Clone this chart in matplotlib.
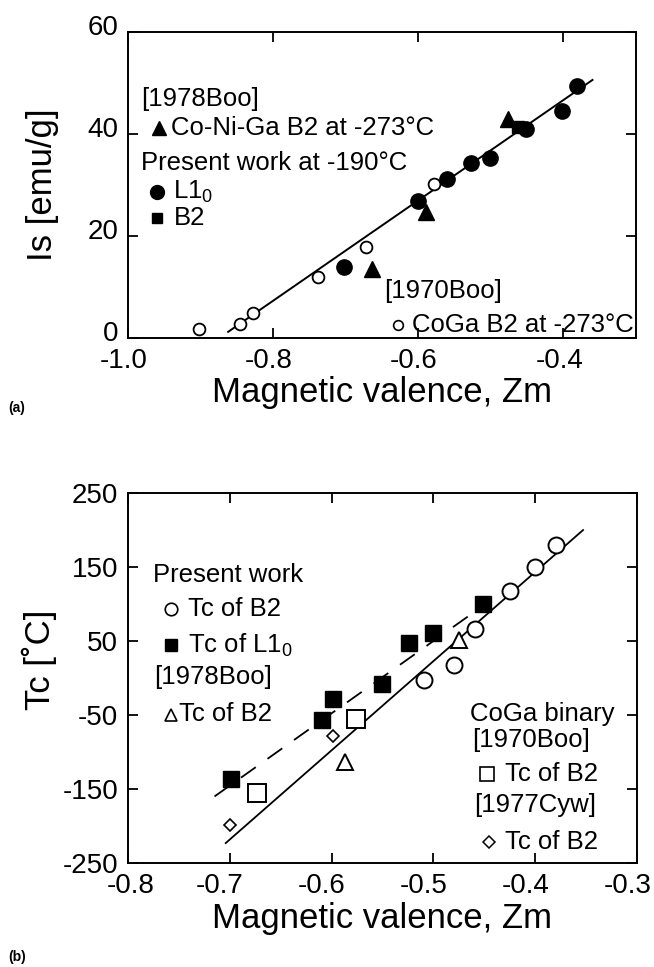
import numpy as np
import matplotlib
matplotlib.use('Agg')
import matplotlib.pyplot as plt
from matplotlib.transforms import ScaledTranslation

plt.rcParams['font.family'] = ['Liberation Sans', 'DejaVu Sans']
plt.rcParams['mathtext.fontset'] = 'custom'
plt.rcParams['mathtext.rm'] = 'Liberation Sans'
plt.rcParams['mathtext.it'] = 'Liberation Sans'
plt.rcParams['axes.unicode_minus'] = False

# (a) saturation magnetisation vs magnetic valence
coga_zm = [-0.902, -0.846, -0.828, -0.738, -0.672, -0.579]
coga_is = [1.7, 2.8, 4.8, 12.0, 17.9, 30.2]
l10_zm = [-0.702, -0.601, -0.561, -0.527, -0.501, -0.452, -0.402, -0.381]
l10_is = [14.0, 26.8, 31.1, 34.3, 35.3, 41.0, 44.6, 49.4]
b2_zm = [-0.463]
b2_is = [41.3]
coniga_zm = [-0.477, -0.590, -0.664]
coniga_is = [42.9, 24.8, 13.6]
fit_a_zm = [-0.862, -0.360]
fit_a_is = [1.2, 50.6]

# (b) Curie temperature vs magnetic valence
tc_b2_zm = [-0.380, -0.400, -0.425, -0.459, -0.480, -0.509]
tc_b2 = [180, 150, 117, 66, 18, -2]
tc_l10_zm = [-0.451, -0.500, -0.524, -0.550, -0.599, -0.609, -0.699]
tc_l10 = [100, 61, 48, -8, -28, -57, -136]
tc_boo78_zm = [-0.475, -0.587]
tc_boo78 = [52, -113]
tc_boo70_zm = [-0.576, -0.673]
tc_boo70 = [-55, -155]
tc_cyw_zm = [-0.599, -0.700]
tc_cyw = [-78, -198]
fit_solid_zm = [-0.704, -0.353]
fit_solid_tc = [-223, 200]
fit_dash_zm = [-0.715, -0.454]
fit_dash_tc = [-160, 95]

fig = plt.figure(figsize=(6.54, 9.67), dpi=100)
ax1 = fig.add_axes([0.1957, 0.6505, 0.7768, 0.3164])
ax2 = fig.add_axes([0.1957, 0.1075, 0.7783, 0.3826])

tick_fs = 20
label_fs = 25
txt_fs = 18.5

for ax in (ax1, ax2):
    for s in ax.spines.values():
        s.set_linewidth(1.4)
    ax.tick_params(direction='in', length=7, width=1.3, top=True, right=True,
                   labelsize=tick_fs, pad=7)

# ---- panel a ----
ax1.plot(fit_a_zm, fit_a_is, color='black', lw=1.4, zorder=1)
ax1.plot(coga_zm, coga_is, 'o', mfc='white', mec='black', mew=1.3, ms=8.5, ls='none', zorder=3)
ax1.plot(l10_zm, l10_is, 'o', color='black', ms=11, ls='none', zorder=3)
ax1.plot(b2_zm, b2_is, 's', color='black', ms=9, ls='none', zorder=3)
ax1.plot(coniga_zm, coniga_is, '^', color='black', ms=11, ls='none', zorder=3)

ax1.set_xlim(-1.0, -0.30)
ax1.set_ylim(0, 60)
ax1.set_xticks([-1.0, -0.8, -0.6, -0.4])
ax1.set_xticklabels(['-1.0', '-0.8', '-0.6', '-0.4'])
ax1.set_yticks([0, 20, 40, 60])
ax1.set_xlabel('Magnetic valence, Zm', fontsize=label_fs, labelpad=2)
ax1.set_ylabel('Is [emu/g]', fontsize=label_fs, labelpad=20)
up = ScaledTranslation(0, 5 / 72, fig.dpi_scale_trans)
for lab in ax1.get_yticklabels():
    lab.set_transform(lab.get_transform() + up)
left_a = ScaledTranslation(-3 / 72, 0, fig.dpi_scale_trans)
for lab in ax1.get_xticklabels():
    lab.set_transform(lab.get_transform() + left_a)

t = ax1.transAxes
ax1.text(0.026, 0.78, '[1978Boo]', transform=t, fontsize=txt_fs, va='center')
ax1.plot(0.061, 0.686, '^', color='black', ms=10, transform=t, clip_on=False)
ax1.text(0.084, 0.686, 'Co-Ni-Ga B2 at -273°C', transform=t, fontsize=txt_fs, va='center')
ax1.text(0.026, 0.573, 'Present work at -190°C', transform=t, fontsize=txt_fs, va='center')
ax1.plot(0.058, 0.478, 'o', color='black', ms=10, transform=t, clip_on=False)
ax1.text(0.088, 0.478, 'L1$_0$', transform=t, fontsize=txt_fs, va='center')
ax1.plot(0.058, 0.392, 's', color='black', ms=7, transform=t, clip_on=False)
ax1.text(0.090, 0.392, 'B2', transform=t, fontsize=txt_fs, va='center')
ax1.text(0.504, 0.154, '[1970Boo]', transform=t, fontsize=txt_fs, va='center')
ax1.plot(0.531, 0.043, 'o', mfc='white', mec='black', mew=1.2, ms=7, transform=t, clip_on=False)
ax1.text(0.559, 0.043, 'CoGa B2 at -273°C', transform=t, fontsize=txt_fs, va='center')

# ---- panel b ----
ax2.plot(fit_solid_zm, fit_solid_tc, color='black', lw=1.3, zorder=1)
ax2.plot(fit_dash_zm, fit_dash_tc, color='black', lw=1.3, ls=(0, (10, 8)), zorder=1)
ax2.plot(tc_b2_zm, tc_b2, 'o', mfc='white', mec='black', mew=1.4, ms=11.5, ls='none', zorder=3)
ax2.plot(tc_l10_zm, tc_l10, 's', color='black', ms=11.5, ls='none', zorder=3)
ax2.plot(tc_boo78_zm, tc_boo78, '^', mfc='white', mec='black', mew=1.4, ms=11, ls='none', zorder=3)
ax2.plot(tc_boo70_zm, tc_boo70, 's', mfc='white', mec='black', mew=1.4, ms=12.5, ls='none', zorder=3)
ax2.plot(tc_cyw_zm, tc_cyw, 'D', mfc='white', mec='black', mew=1.2, ms=6, ls='none', zorder=3)

ax2.set_xlim(-0.8, -0.3)
ax2.set_ylim(-250, 250)
ax2.set_xticks([-0.8, -0.7, -0.6, -0.5, -0.4, -0.3])
ax2.set_xticklabels(['-0.8', '-0.7', '-0.6', '-0.5', '-0.4', '-0.3'])
ax2.set_yticks([-250, -150, -50, 50, 150, 250])
ax2.set_xlabel('Magnetic valence, Zm', fontsize=label_fs, labelpad=2)
ax2.set_ylabel('Tc [˚C]', fontsize=label_fs)
ax2.yaxis.set_label_coords(-0.14, 0.55)
# the first label sits on the tick, the rest lean slightly left
for i, lab in enumerate(ax2.get_xticklabels()):
    dx = 2 if i == 0 else -7
    lab.set_transform(lab.get_transform() + ScaledTranslation(dx / 72, 0, fig.dpi_scale_trans))

t = ax2.transAxes
ax2.text(0.050, 0.778, 'Present work', transform=t, fontsize=txt_fs, va='center')
ax2.plot(0.084, 0.686, 'o', mfc='white', mec='black', mew=1.2, ms=9, transform=t, clip_on=False)
ax2.text(0.117, 0.686, 'Tc of B2', transform=t, fontsize=txt_fs, va='center')
ax2.plot(0.084, 0.589, 's', color='black', ms=8, transform=t, clip_on=False)
ax2.text(0.117, 0.589, 'Tc of L1$_0$', transform=t, fontsize=txt_fs, va='center')
ax2.text(0.052, 0.503, '[1978Boo]', transform=t, fontsize=txt_fs, va='center')
ax2.plot(0.084, 0.400, '^', mfc='white', mec='black', mew=1.2, ms=9, transform=t, clip_on=False)
ax2.text(0.100, 0.403, 'Tc of B2', transform=t, fontsize=txt_fs, va='center')
ax2.text(0.671, 0.403, 'CoGa binary', transform=t, fontsize=txt_fs, va='center')
ax2.text(0.677, 0.332, '[1970Boo]', transform=t, fontsize=txt_fs, va='center')
ax2.plot(0.706, 0.242, 's', mfc='white', mec='black', mew=1.2, ms=10, transform=t, clip_on=False)
ax2.text(0.740, 0.242, 'Tc of B2', transform=t, fontsize=txt_fs, va='center')
ax2.text(0.681, 0.157, '[1977Cyw]', transform=t, fontsize=txt_fs, va='center')
ax2.plot(0.709, 0.057, 'D', mfc='white', mec='black', mew=1.1, ms=6, transform=t, clip_on=False)
ax2.text(0.741, 0.057, 'Tc of B2', transform=t, fontsize=txt_fs, va='center')

fig.text(0.012, 1 - 408 / 967, '(a)', fontsize=10, fontweight='bold', va='center')
fig.text(0.012, 1 - 957 / 967, '(b)', fontsize=10, fontweight='bold', va='center')

fig.savefig('out.png', dpi=100)
